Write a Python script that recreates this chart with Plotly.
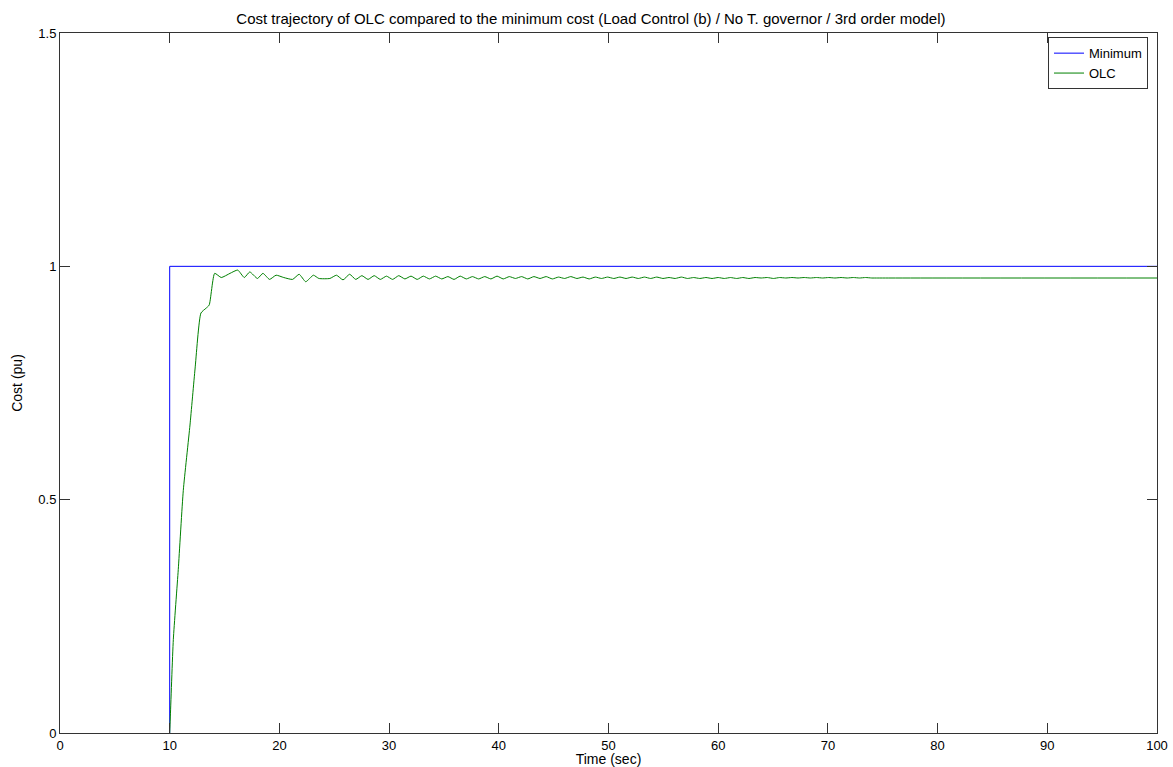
import plotly.graph_objects as go

# Minimum-cost reference: steps from 0 to 1 pu at the load change (t = 10 s)
min_time = [10, 10, 100]
min_cost = [0, 1, 1]

# OLC cost trajectory: initial rise after the step
olc_rise_time = [10.0, 10.05, 10.33, 10.78, 11.24, 11.85, 12.31, 12.85, 13.3, 13.6, 14.1,
                 14.7, 15.5, 16.2, 16.8, 17.3, 18.0, 18.5, 19.1, 19.7, 20.4, 21.2, 21.8,
                 22.4, 23.1, 23.6, 24.6, 25.2, 25.8]
olc_rise_cost = [0.0, 0.03, 0.20, 0.35, 0.52, 0.66, 0.78, 0.90, 0.910, 0.917, 0.985,
                 0.976, 0.985, 0.992, 0.976, 0.988, 0.974, 0.985, 0.972, 0.981, 0.976, 0.972, 0.983,
                 0.967, 0.981, 0.974, 0.974, 0.981, 0.971]

# OLC cost trajectory: settling ripple (successive peaks and troughs) and the flat tail
olc_ripple_time = [26.4, 26.96, 27.52, 28.08, 28.64, 29.2, 29.76, 30.32, 30.88, 31.44,
                   32.0, 32.56, 33.12, 33.68, 34.24, 34.8, 35.36, 35.92, 36.48, 37.04,
                   37.6, 38.16, 38.72, 39.28, 39.84, 40.4, 40.96, 41.52, 42.08, 42.64,
                   43.2, 43.76, 44.32, 44.88, 45.44, 46.0, 46.56, 47.12, 47.68, 48.24,
                   48.8, 49.36, 49.92, 50.48, 51.04, 51.6, 52.16, 52.72, 53.28, 53.84,
                   54.4, 54.96, 55.52, 56.08, 56.64, 57.2, 57.76, 58.32, 58.88, 59.44,
                   60.0, 60.56, 61.12, 61.68, 62.24, 62.8, 63.36, 63.92, 64.48, 65.04,
                   65.6, 66.16, 66.72, 67.28, 67.84, 68.4, 68.96, 69.52, 70.08, 70.64,
                   71.2, 71.76, 72.32, 72.88, 73.44, 74.0, 74.56, 75.5, 100.0]
olc_ripple_cost = [0.983, 0.972, 0.980, 0.972, 0.980, 0.972, 0.979, 0.972, 0.980, 0.973,
                   0.979, 0.972, 0.979, 0.973, 0.979, 0.973, 0.978, 0.972, 0.979, 0.973,
                   0.978, 0.973, 0.978, 0.973, 0.979, 0.973, 0.978, 0.974, 0.978, 0.973,
                   0.978, 0.974, 0.978, 0.973, 0.977, 0.974, 0.978, 0.974, 0.977, 0.973,
                   0.977, 0.974, 0.977, 0.974, 0.977, 0.974, 0.977, 0.974, 0.977, 0.974,
                   0.977, 0.974, 0.976, 0.974, 0.977, 0.974, 0.976, 0.974, 0.976, 0.974,
                   0.976, 0.974, 0.976, 0.974, 0.976, 0.974, 0.976, 0.975, 0.976, 0.974,
                   0.976, 0.975, 0.976, 0.975, 0.976, 0.975, 0.976, 0.975, 0.976, 0.975,
                   0.976, 0.975, 0.976, 0.975, 0.976, 0.975, 0.975, 0.975, 0.975]

olc_time = olc_rise_time + olc_ripple_time
olc_cost = olc_rise_cost + olc_ripple_cost

x_ticks = [0, 10, 20, 30, 40, 50, 60, 70, 80, 90, 100]
y_ticks = [0, 0.5, 1, 1.5]
y_tick_text = ["0", "0.5", "1", "1.5"]

font_family = "Liberation Sans, Arial, sans-serif"

fig = go.Figure()
fig.add_trace(go.Scatter(x=min_time, y=min_cost, mode="lines", name="Minimum",
                         line=dict(color="#0000ff", width=1)))
fig.add_trace(go.Scatter(x=olc_time, y=olc_cost, mode="lines", name="OLC",
                         line=dict(color="#008000", width=1, shape="spline", smoothing=0.5)))

axis_common = dict(
    showgrid=False, zeroline=False, showline=True, mirror="allticks",
    linecolor="#333333", linewidth=1, ticks="inside", ticklen=10,
    tickcolor="#333333", tickfont=dict(family=font_family, size=13, color="#000"),
    automargin=False, layer="above traces",
)

fig.update_layout(
    width=1173, height=767,
    margin=dict(l=60, r=16, t=33, b=34),
    paper_bgcolor="white", plot_bgcolor="white",
    font=dict(family=font_family, size=13, color="#000"),
    title=dict(text="Cost trajectory of OLC compared to the minimum cost (Load Control (b) / No T. governor / 3rd order model)",
               x=0.484, xref="paper", xanchor="center", y=1, yref="paper", yanchor="bottom",
               pad=dict(b=9),
               font=dict(family=font_family, size=15, color="#000")),
    xaxis=dict(range=[0, 100], tickvals=x_ticks, **axis_common,
               title=dict(text="Time (sec)", standoff=1,
                          font=dict(family=font_family, size=14, color="#000"))),
    yaxis=dict(range=[0, 1.5], tickvals=y_ticks, ticktext=y_tick_text, **axis_common,
               title=dict(text="Cost (pu)", standoff=12,
                          font=dict(family=font_family, size=14, color="#000"))),
    legend=dict(x=0.9918, y=0.994, xanchor="right", yanchor="top",
                bgcolor="white", bordercolor="#333333", borderwidth=1,
                font=dict(family=font_family, size=13, color="#000"),
                tracegroupgap=0, itemwidth=30),
    showlegend=True,
)

fig.write_html("out.html")
